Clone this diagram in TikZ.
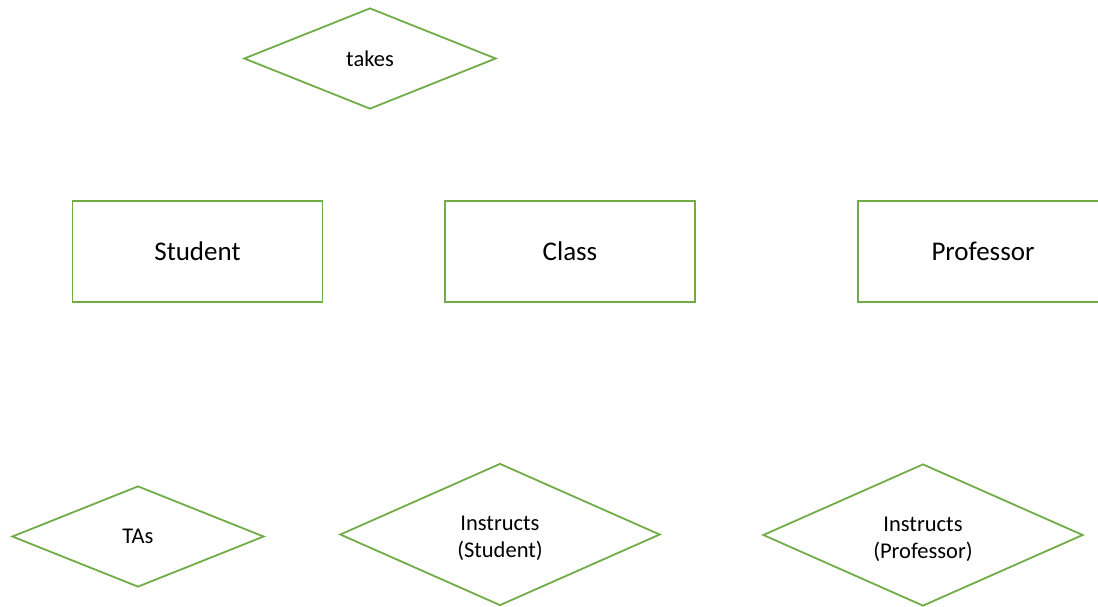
\documentclass[tikz,border=0pt]{standalone}
\usepackage{fontspec}
\setmainfont{Carlito}
\usetikzlibrary{shapes.geometric}
\definecolor{ergreen}{HTML}{70AD47}
\tikzset{
  entity/.style={draw=ergreen, line width=1.8pt, fill=white, rectangle, minimum width=250pt, minimum height=101pt, inner sep=0pt, font=\fontsize{27}{32}\selectfont},
  relation/.style={draw=ergreen, line width=1.8pt, fill=white, diamond, inner sep=0pt, font=\fontsize{22.5}{27}\selectfont, align=center},
  rellabel/.style={font=\fontsize{22.5}{27}\selectfont, align=center, yshift=-4pt},
}
\begin{document}
\begin{tikzpicture}[x=1pt,y=-1pt]
\useasboundingbox (0,0) rectangle (1098,606);
\clip (0,0) rectangle (1098,606);
\node[relation, minimum width=252pt, minimum height=101pt] (takes) at (370,58.5) {takes};
\node[entity] (student) at (197.5,251.5) {Student};
\node[entity] (class) at (570,251.5) {Class};
\node[entity, minimum width=290pt, text width=250pt, align=center, inner xsep=0pt, xshift=20pt] (professor) at (983,251.5) {\hspace*{-40pt}Professor};
\node[relation, minimum width=252pt, minimum height=101pt] (tas) at (138,536.5) {TAs};
\node[relation, minimum width=320pt, minimum height=142pt,
  label={[rellabel]center:Instructs\\(Student)}] (instS) at (500,534.5) {};
\node[relation, minimum width=320pt, minimum height=142pt,
  label={[rellabel]center:Instructs\\(Professor)}] (instP) at (923,535) {};
\end{tikzpicture}
\end{document}
